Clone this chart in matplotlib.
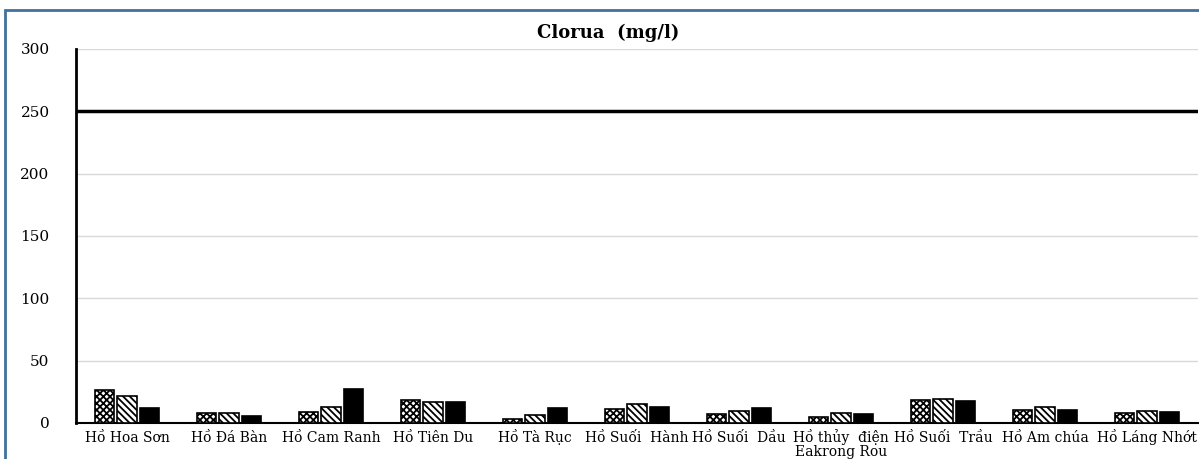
import matplotlib.pyplot as plt
from matplotlib.patches import Rectangle
import numpy as np

# du lieu doc tu hinh
lakes = ['Hồ Hoa Sơn', 'Hồ Đá Bàn', 'Hồ Cam Ranh', 'Hồ Tiên Du', 'Hồ Tà Rục',
         'Hồ Suối  Hành', 'Hồ Suối  Dầu', 'Hồ thủy  điện\nEakrong Rou',
         'Hồ Suối  Trầu', 'Hồ Am chúa', 'Hồ Láng Nhớt']
dot1 = [26.5, 8.3, 8.8, 18.7, 3.0, 11.5, 7.0, 4.8, 18.4, 10.4, 7.8]
dot2 = [21.7, 8.3, 12.5, 16.8, 6.4, 15.0, 9.9, 7.8, 19.0, 13.1, 9.9]
dot3 = [11.8, 5.5, 27.0, 16.8, 11.8, 13.1, 11.8, 7.0, 17.9, 10.7, 8.8]
gioi_han = 250
yticks = [0, 50, 100, 150, 200, 250, 300]

plt.rcParams['font.family'] = 'DejaVu Serif'
plt.rcParams['hatch.linewidth'] = 1.3

fig = plt.figure(figsize=(11.99, 4.59), dpi=100)
ax = fig.add_axes([76/1199, 1-423/459, 1122/1199, 374/459])

x = np.arange(len(lakes))
w = 0.19
ax.bar(x-0.22, dot1, w, color='white', edgecolor='black', hatch='xxxxx', lw=1.2, zorder=3)
ax.bar(x, dot2, w, color='white', edgecolor='black', hatch='\\\\\\\\\\', lw=1.2, zorder=3)
ax.bar(x+0.22, dot3, w, color='black', edgecolor='black', lw=1.2, zorder=3)

ax.axhline(gioi_han, color='black', lw=2.5, zorder=4)

ax.set_xlim(-0.5, len(lakes)-0.5)
ax.set_ylim(0, 300)
ax.set_yticks(yticks)
ax.set_yticklabels([str(v) for v in yticks], fontsize=11)

# dong dau lam nhan truc, dong thu hai ve rieng ben duoi
ax.set_xticks(x)
ax.set_xticklabels([t.split('\n')[0] for t in lakes], fontsize=10, va='baseline')
for i, t in enumerate(lakes):
    for k, line in enumerate(t.split('\n')[1:], start=1):
        ax.annotate(line, (i, 0), xycoords=('data', 'axes fraction'),
                    xytext=(0, -14 - 10*k), textcoords='offset points',
                    ha='center', va='baseline', fontsize=10, annotation_clip=False)

ax.tick_params(axis='both', length=0)
ax.tick_params(axis='y', pad=19)
ax.tick_params(axis='x', pad=14)
ax.grid(axis='y', color='#d9d9d9', lw=1, zorder=0)
for s in ['top', 'right']:
    ax.spines[s].set_visible(False)
ax.spines['left'].set_linewidth(2)
ax.spines['bottom'].set_linewidth(1.5)
ax.spines['left'].set_zorder(5)

fig.text(608/1199, 1-33/459, 'Clorua  (mg/l)', ha='center', va='center',
         fontsize=13, fontweight='bold')

# khung vien
fig.patches.append(Rectangle((5/1199, -0.1), 1.2, 1.1-10/459, transform=fig.transFigure,
                             fill=False, edgecolor='#41719c', lw=2))

fig.savefig('out.png', dpi=100)
